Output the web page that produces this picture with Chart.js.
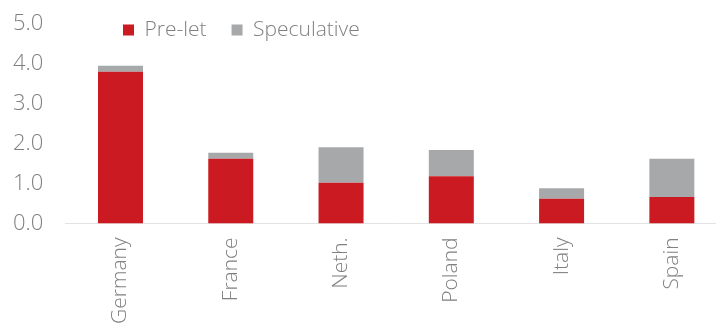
<!DOCTYPE html>
<html>
<head>
<meta charset="utf-8">
<script src="https://cdn.jsdelivr.net/npm/chart.js@4/dist/chart.umd.min.js"></script>
<style>
	html, body { margin: 0; padding: 0; background: #fff; overflow: hidden; }
	#wrap { width: 730px; height: 331px; position: relative; }
</style>
</head>
<body>
<div id="wrap"><canvas id="chart"></canvas></div>
<script>
// values
var categories = ["Germany", "France", "Neth.", "Poland", "Italy", "Spain"];
var preLet = [3.8, 1.62, 1.02, 1.18, 0.62, 0.66];
var speculative = [0.15, 0.15, 0.89, 0.66, 0.26, 0.96];
var yMax = 5;
var yStep = 1;

var RED = "#cc1a22";
var GREY = "#a7a8aa";
var TEXT = "#808080";
var FONT = "'Open Sans', 'DejaVu Sans', sans-serif";

// legend sits inside the plot area in the original, so move it there after layout
var legendPlace = {
	id: "legendPlace",
	afterLayout: function (chart)
	{
		var lg = chart.legend;
		if (!lg)
			return;
		var p = lg.options.labels.padding;
		var w = lg.width;
		var h = 2 * p + 24;
		lg.left = 123 - p;
		lg.right = lg.left + w;
		lg.top = 19.5 - p;
		lg.bottom = lg.top + h;
		lg.height = h;
	}
};

new Chart(document.getElementById("chart"), {
	type: "bar",
	data: {
		labels: categories,
		datasets: [
			{label: "Pre-let", data: preLet, backgroundColor: RED},
			{label: "Speculative", data: speculative, backgroundColor: GREY}
		]
	},
	options: {
		responsive: true,
		maintainAspectRatio: false,
		animation: false,
		layout: {padding: {left: -9, right: 3, top: 2, bottom: -7}},
		datasets: {bar: {categoryPercentage: 0.8, barPercentage: 0.51}},
		plugins: {
			tooltip: {enabled: false},
			legend: {
				position: "top",
				align: "start",
				maxHeight: 22,
				labels: {
					boxWidth: 11,
					boxHeight: 11,
					padding: 25,
					color: TEXT,
					font: {family: FONT, size: 21, weight: 300}
				}
			}
		},
		scales: {
			x: {
				stacked: true,
				grid: {display: false, drawTicks: false},
				border: {display: true, color: "#e3e3e3", width: 1},
				ticks: {
					autoSkip: false,
					minRotation: 90,
					maxRotation: 90,
					padding: 14,
					color: TEXT,
					font: {family: FONT, size: 21, weight: 300}
				}
			},
			y: {
				stacked: true,
				min: 0,
				max: yMax,
				grid: {display: false, drawTicks: false},
				border: {display: false},
				// drop the extra top/bottom room that tick padding adds
				afterFit: function (s)
				{
					s.paddingTop = 12;
					s.paddingBottom = 12;
				},
				ticks: {
					stepSize: yStep,
					padding: 22,
					color: TEXT,
					font: {family: FONT, size: 22, weight: 300},
					callback: function (v) { return v.toFixed(1); }
				}
			}
		}
	},
	plugins: [legendPlace]
});
</script>
</body>
</html>
